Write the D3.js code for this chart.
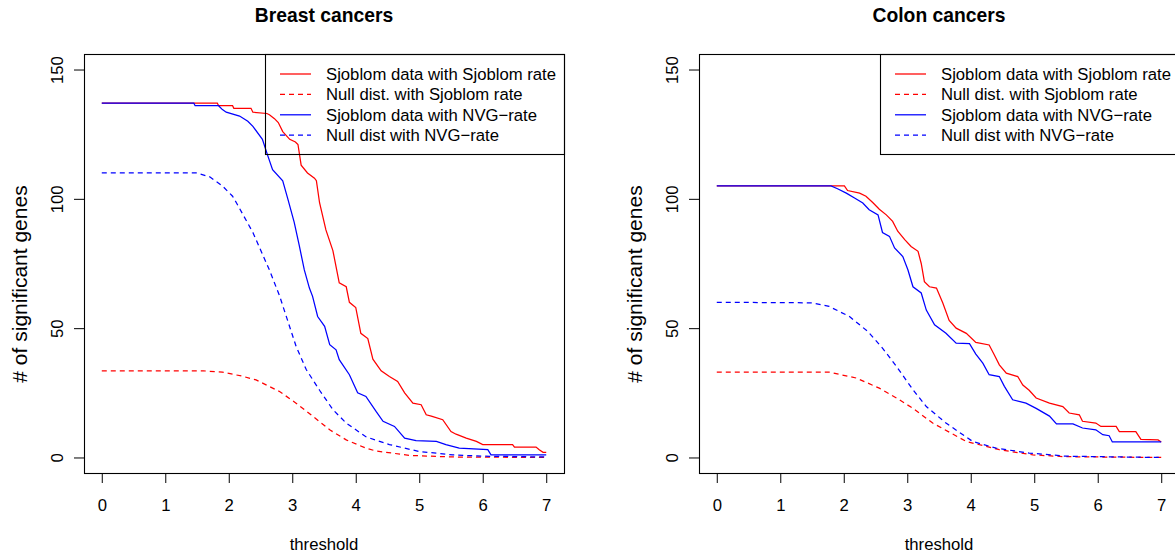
<!DOCTYPE html>
<html>
<head>
<meta charset="utf-8">
<script src="https://cdn.jsdelivr.net/npm/d3@7"></script>
<style>
  body { margin: 0; background: #fff; }
  svg { display: block; font-family: "Liberation Sans", Arial, sans-serif; }
</style>
</head>
<body>
<svg id="chart" width="1175" height="556"></svg>
<script>
// threshold values on the x axis
var xTicks = [0, 1, 2, 3, 4, 5, 6, 7];
var yTicks = [0, 50, 100, 150];

var legendLabels = [
  "Sjoblom data with Sjoblom rate",
  "Null dist. with Sjoblom rate",
  "Sjoblom data with NVG\u2212rate",
  "Null dist with NVG\u2212rate"
];

// Breast cancers: [threshold, # of significant genes]
var breastSjoblom = [[0,137],[1.82,137],[1.84,136],[2.06,136],[2.08,135],[2.35,135],[2.38,133.5],[2.6,133],[2.64,132.5],[2.72,131],[2.78,129.5],[2.85,126],[2.96,123],[3.05,122],[3.09,121],[3.14,113],[3.24,110],[3.35,108],[3.38,107],[3.43,98.5],[3.53,88],[3.64,80],[3.74,67.5],[3.85,66],[3.9,60],[4.0,58],[4.08,48],[4.19,46],[4.27,38],[4.4,33.5],[4.53,31.3],[4.66,29.4],[4.77,25],[4.9,21],[5.03,20.4],[5.11,16.5],[5.19,16],[5.37,14.6],[5.5,10],[5.58,9],[5.74,7.5],[5.9,6.2],[6.0,5],[6.47,5],[6.5,4],[6.84,4],[6.89,3],[6.95,2],[7,2]];
var breastNullSjoblom = [[0,33.5],[1.6,33.5],[1.9,33],[2.2,31.5],[2.43,30],[2.8,25.5],[3.06,21],[3.32,16],[3.59,10.7],[3.85,6.8],[4.16,3.6],[4.32,2.5],[4.85,0.8],[5.5,0.2],[7,0]];
var breastNVG = [[0,137],[1.45,137],[1.47,136],[1.84,136],[1.9,134.5],[1.96,133.5],[2.17,132],[2.3,130],[2.38,128],[2.53,123],[2.61,117],[2.69,111.3],[2.85,107],[2.93,100],[3.03,91],[3.11,82],[3.19,72.5],[3.27,65.5],[3.32,62.3],[3.4,54.5],[3.51,50.7],[3.59,43.6],[3.69,41.6],[3.74,37.8],[3.9,32],[4.03,25],[4.16,23.6],[4.32,17.8],[4.43,14],[4.61,12],[4.77,7.5],[4.95,6.5],[5.27,6.2],[5.42,5],[5.63,3.6],[6.08,3],[6.13,1],[7,1]];
var breastNullNVG = [[0,110],[1.5,110],[1.7,108.5],[1.9,105],[2.06,101],[2.12,98.5],[2.38,87],[2.64,72.5],[2.8,62.5],[2.9,55],[3.06,43],[3.22,34],[3.43,26],[3.64,18.5],[3.85,13.3],[4.16,8],[4.53,5],[5.0,2.3],[5.53,1],[6.0,0.5],[7,0.2]];

// Colon cancers
var colonSjoblom = [[0,105],[2.01,105],[2.06,103.2],[2.25,102.2],[2.35,101],[2.46,98.5],[2.56,96],[2.67,93.8],[2.77,91.3],[2.85,87.5],[2.96,84.2],[3.06,81.6],[3.17,79.7],[3.22,75],[3.27,68],[3.35,66],[3.46,65.5],[3.56,59.7],[3.66,53],[3.77,50],[3.93,48],[4.08,44.5],[4.29,43.5],[4.37,39.7],[4.45,35.8],[4.56,32.6],[4.74,31.3],[4.82,28],[4.92,26],[5.03,23],[5.24,21],[5.45,19.7],[5.55,17.2],[5.71,16.5],[5.76,14],[5.97,13.3],[6.05,12],[6.29,12],[6.34,10],[6.6,10],[6.68,7],[6.95,6.8],[7,6]];
var colonNullSjoblom = [[0,33],[1.77,33],[2.2,30.7],[2.56,26.8],[2.83,23],[3.09,19],[3.4,13.3],[3.93,6.2],[4.45,3],[4.98,1],[5.5,0.3],[7,0]];
var colonNVG = [[0,105],[1.8,105],[1.91,103.8],[2.04,102.2],[2.17,100.3],[2.3,98.4],[2.4,95.8],[2.54,93.8],[2.61,87],[2.72,85.5],[2.8,81],[2.93,77.7],[3.01,72.6],[3.09,66],[3.22,63.6],[3.3,57],[3.43,51.3],[3.61,48],[3.77,44.2],[3.98,44],[4.08,40],[4.19,36.5],[4.29,32],[4.45,31.3],[4.53,27.5],[4.66,22.3],[4.87,21],[5.03,19],[5.24,16],[5.35,13],[5.61,13],[5.76,11.4],[5.97,10.7],[6.08,8.8],[6.18,8.4],[6.23,6],[7,6]];
var colonNullNVG = [[0,60],[1.5,59.8],[1.77,58.4],[2.09,54.5],[2.38,48.7],[2.61,42.3],[2.83,35.2],[3.09,26.2],[3.3,19.7],[3.61,13.3],[4.03,6.2],[4.4,3.6],[4.92,1.7],[5.5,0.5],[7,0]];

var svg = d3.select("#chart");

var lineStyles = [
  { color: "#ff0000", dash: null },
  { color: "#ff0000", dash: "5,4" },
  { color: "#0000ff", dash: null },
  { color: "#0000ff", dash: "5,4" }
];

function drawPanel(p) {
  var x = d3.scaleLinear().domain([-0.28, 7.28]).range([p.left, p.left + 480]);
  var y = d3.scaleLinear().domain([-6, 156]).range([473, 54]);
  var g = svg.append("g");

  // title
  g.append("text")
    .attr("x", p.left + 240).attr("y", 21.5)
    .attr("text-anchor", "middle")
    .style("font-size", "19.3px").style("font-weight", "bold")
    .text(p.title);

  // x axis
  var xAxis = g.append("g")
    .attr("transform", "translate(0,473.5)")
    .call(d3.axisBottom(x).tickValues(xTicks).tickSize(9.5).tickPadding(0).tickFormat(d3.format("d")));
  xAxis.select(".domain").remove();
  xAxis.selectAll("line").attr("stroke", "#000");
  xAxis.selectAll("text").attr("y", 0).attr("dy", 0)
    .attr("transform", "translate(0,37)")
    .style("font-size", "16.7px").attr("fill", "#000");

  // y axis (labels are parallel to the axis)
  var yAxis = g.append("g")
    .attr("transform", "translate(" + (p.left + 0.5) + ",0)")
    .call(d3.axisLeft(y).tickValues(yTicks).tickSize(10.5).tickFormat(d3.format("d")));
  yAxis.select(".domain").remove();
  yAxis.selectAll("line").attr("stroke", "#000");
  yAxis.selectAll(".tick text")
    .attr("x", null).attr("dy", null)
    .attr("text-anchor", "middle")
    .attr("transform", "translate(-21.5,0) rotate(-90)")
    .style("font-size", "16.7px").attr("fill", "#000");

  g.append("text")
    .attr("transform", "translate(" + (p.left - 57) + ",284) rotate(-90)")
    .attr("text-anchor", "middle")
    .style("font-size", "21px")
    .text("# of significant genes");

  g.append("text")
    .attr("x", x(3.5)).attr("y", 550)
    .attr("text-anchor", "middle")
    .style("font-size", "16.7px")
    .text("threshold");

  // curves
  var line = d3.line().x(function(d) { return x(d[0]); }).y(function(d) { return y(d[1]); });
  p.series.forEach(function(s, i) {
    g.append("path")
      .datum(s)
      .attr("d", line)
      .attr("fill", "none")
      .attr("stroke", lineStyles[i].color)
      .attr("stroke-width", 1.25)
      .attr("stroke-dasharray", lineStyles[i].dash);
  });

  // plot box
  g.append("rect")
    .attr("x", p.left + 0.5).attr("y", 54.5)
    .attr("width", 480).attr("height", 419)
    .attr("fill", "none").attr("stroke", "#000").attr("stroke-width", 1.1);

  // legend (transparent, curves show through)
  var lg = g.append("g");
  lg.append("rect")
    .attr("x", p.legendLeft + 0.5).attr("y", 54.5)
    .attr("width", p.left + 480 - p.legendLeft).attr("height", 100)
    .attr("fill", "none").attr("stroke", "#000").attr("stroke-width", 1.1);
  legendLabels.forEach(function(lab, i) {
    var ly = 74 + i * 20.4;
    lg.append("line")
      .attr("x1", p.legendLeft + 15).attr("x2", p.legendLeft + 46)
      .attr("y1", ly).attr("y2", ly)
      .attr("stroke", lineStyles[i].color)
      .attr("stroke-width", 1.25)
      .attr("stroke-dasharray", lineStyles[i].dash);
    lg.append("text")
      .attr("x", p.legendLeft + 61).attr("y", ly + 6)
      .style("font-size", "16.7px")
      .text(lab);
  });
}

drawPanel({
  title: "Breast cancers",
  left: 84,
  legendLeft: 265,
  series: [breastSjoblom, breastNullSjoblom, breastNVG, breastNullNVG]
});

drawPanel({
  title: "Colon cancers",
  left: 699,
  legendLeft: 880,
  series: [colonSjoblom, colonNullSjoblom, colonNVG, colonNullNVG]
});
</script>
</body>
</html>
